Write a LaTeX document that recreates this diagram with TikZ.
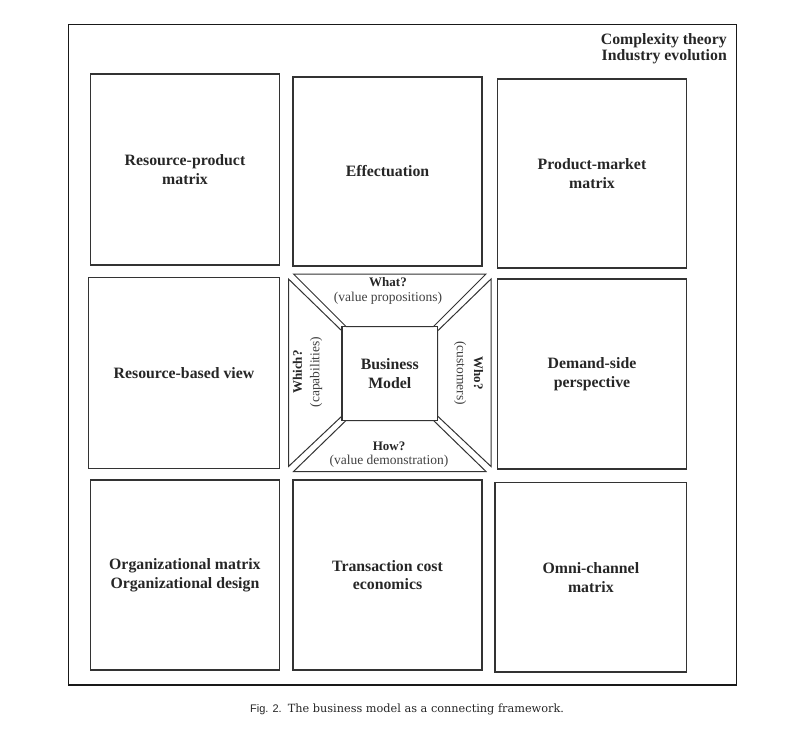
\documentclass[tikz,border=0pt]{standalone}
\usepackage{fontspec}
\setmainfont{Liberation Serif}
\setsansfont{Liberation Sans}
\newfontfamily\captfont{DejaVu Serif}
\begin{document}
\begin{tikzpicture}[x=1pt,y=-1pt,
  panel/.style={draw=black!80, line width=1.1pt, align=center, text=black!85,
    font=\fontsize{15.8}{18.7}\selectfont\bfseries, inner sep=0pt},
  frame/.style={draw=black!90, line width=1.2pt},
  trap/.style={draw=black!80, line width=1pt, line join=miter},
  qbold/.style={font=\fontsize{13}{15}\selectfont\bfseries, text=black!85, inner sep=0pt},
  qreg/.style={font=\fontsize{13.5}{15}\selectfont, text=black!75, inner sep=0pt}]
\useasboundingbox (0,0) rectangle (790,736);
% outer frame
\draw[frame] (68.5,24.5) rectangle (736.7,685);
\node[font=\fontsize{15.8}{16.2}\selectfont\bfseries, align=right, text=black!85, anchor=north east, inner sep=0pt]
  (ctx) at (727,33) {Complexity theory\\Industry evolution};
% panels
\node[panel, minimum width=188.6pt, minimum height=191pt] (rp) at (185,169.5) {Resource-product\\matrix};
\node[panel, minimum width=189pt, minimum height=189pt] (ef) at (387.5,171.5) {Effectuation};
\node[panel, minimum width=189.4pt, minimum height=189pt] (pm) at (592,173.5) {Product-market\\matrix};
\node[panel, minimum width=190.6pt, minimum height=190.6pt] (rb) at (184,373) {Resource-based view};
\node[panel, minimum width=189.4pt, minimum height=190pt] (ds) at (592,374) {Demand-side\\perspective};
\node[panel, minimum width=188.8pt, minimum height=190pt] (om) at (184.9,575) {Organizational matrix\\Organizational design};
\node[panel, minimum width=189pt, minimum height=190pt] (tc) at (387.5,575) {Transaction cost\\economics};
\node[panel, minimum width=191.7pt, minimum height=189.3pt] (oc) at (590.85,577.35) {Omni-channel\\matrix};
% central business model
\node[panel, minimum width=95.5pt, minimum height=94pt] (bm) at (389.75,373.5) {Business\\Model};
% four trapezoids
\draw[trap] (293.5,274) -- (486,274) -- (433.5,326.5) -- (346,326.5) -- cycle;
\draw[trap] (288.5,279) -- (342,331) -- (342,416) -- (288.5,466.5) -- cycle;
\draw[trap] (491,279) -- (491,466.5) -- (437.5,416) -- (437.5,331) -- cycle;
\draw[trap] (293.5,471.5) -- (486,471.5) -- (433.5,420.5) -- (346,420.5) -- cycle;
% labels in trapezoids
\node[qbold] (what) at (388,282) {What?};
\node[qreg] (whatv) at (388,298.5) {(value propositions)};
\node[qbold] (how) at (389,446) {How?};
\node[qreg] (howv) at (389,461) {(value demonstration)};
\node[qbold, rotate=90] (which) at (297.5,372) {Which?};
\node[qreg, rotate=90] (whichv) at (316,372) {(capabilities)};
\node[qbold, rotate=-90] (who) at (478.5,373) {Who?};
\node[qreg, rotate=-90] (whov) at (460,373) {(customers)};
% caption
\node[anchor=base west, inner sep=0pt, text=black!85] (cap) at (250,712)
  {{\sffamily\fontsize{11}{13}\selectfont Fig. 2.}\hspace{6pt}{\captfont\fontsize{11.3}{13}\selectfont The business model as a connecting framework.}};
\end{tikzpicture}
\end{document}
